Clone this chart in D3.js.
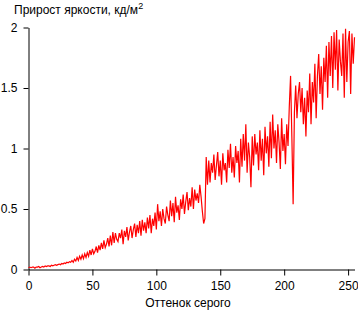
<!DOCTYPE html>
<html><head><meta charset="utf-8">
<script src="https://cdn.jsdelivr.net/npm/d3@7"></script>
<style>
body{margin:0;background:#fff;}
svg text{font-family:"Liberation Sans",Arial,sans-serif;font-size:12px;fill:#000;}
</style></head>
<body><svg id="c" width="358" height="312"></svg>
<script>
const title = "Прирост яркости, кд/м";
const titleSup = "2";
const xLabel = "Оттенок серого";
const xTicks = [0, 50, 100, 150, 200, 250];
const yTicks = [0, 0.5, 1, 1.5, 2];
const yTickLabels = ["0", "0.5", "1", "1.5", "2"];
const brightnessGain = [
0.015,0.02,0.015,0.02,0.02,0.01,0.02,0.02,0.025,0.015,0.02,0.025,0.02,0.03,0.025,0.03,
0.03,0.025,0.035,0.03,0.035,0.04,0.035,0.04,0.045,0.04,0.05,0.045,0.055,0.05,0.06,0.055,
0.065,0.06,0.075,0.06,0.085,0.07,0.1,0.075,0.11,0.085,0.12,0.09,0.13,0.1,0.14,0.11,
0.16,0.12,0.17,0.13,0.15,0.19,0.14,0.2,0.16,0.22,0.17,0.24,0.18,0.21,0.26,0.19,
0.28,0.2,0.31,0.22,0.3,0.25,0.23,0.3,0.26,0.33,0.21,0.32,0.27,0.35,0.24,0.31,
0.36,0.26,0.33,0.38,0.27,0.37,0.3,0.4,0.28,0.41,0.32,0.39,0.3,0.43,0.34,0.45,
0.3,0.42,0.36,0.47,0.33,0.54,0.4,0.48,0.36,0.5,0.42,0.38,0.52,0.45,0.4,0.57,
0.44,0.55,0.39,0.6,0.47,0.53,0.41,0.58,0.5,0.62,0.46,0.56,0.64,0.49,0.59,0.52,
0.68,0.5,0.66,0.57,0.63,0.55,0.7,0.6,0.48,0.38,0.42,0.93,0.7,0.9,0.72,0.88,
0.8,0.95,0.74,0.86,0.97,0.77,0.9,0.7,0.96,0.82,0.88,0.72,0.99,0.84,1.04,0.8,
0.93,0.76,1.02,0.88,0.98,0.72,1.08,0.85,1.12,0.9,1.2,0.8,1.05,0.93,0.68,1.1,
0.86,1.12,0.95,1.05,0.82,1.15,0.9,1.08,0.78,1.18,0.96,1.1,0.85,1.22,0.92,1.28,
1.0,1.15,0.88,1.2,1.05,0.83,1.25,0.98,1.12,0.87,1.2,1.02,1.35,1.6,1.1,0.54,
1.3,1.52,1.25,1.45,1.55,1.3,1.5,1.2,1.42,1.1,1.48,1.3,1.62,1.2,1.55,1.38,
1.7,1.25,1.6,1.78,1.45,1.68,1.32,1.75,1.55,1.85,1.42,1.88,1.6,1.93,1.5,1.96,
1.65,1.98,1.48,1.9,1.72,1.6,1.95,1.42,1.99,1.55,1.88,1.97,1.45,1.95,1.7,1.92
];
const grayLevels = brightnessGain.map((_, i) => i);

const svg = d3.select("#c");
const x = d3.scaleLinear().domain([0, 255]).range([28.5, 354.5]);
const y = d3.scaleLinear().domain([0, 2]).range([269.5, 27.5]);

svg.append("g").attr("transform", "translate(0,269.5)")
  .call(d3.axisBottom(x).tickValues(xTicks).tickSize(6).tickPadding(6).tickSizeOuter(0))
  .call(g => { g.selectAll("text").style("font-size","12px"); g.selectAll("path,line").attr("stroke","#000"); });
svg.append("g").attr("transform", "translate(28.5,0)")
  .call(d3.axisLeft(y).tickValues(yTicks).tickFormat((d,i)=>yTickLabels[i]).tickSize(5).tickPadding(6).tickSizeOuter(0))
  .call(g => { g.selectAll("text").style("font-size","12px"); g.selectAll("path,line").attr("stroke","#000"); });

const line = d3.line().x((d,i)=>x(grayLevels[i])).y(d=>y(d));
svg.append("path").datum(brightnessGain)
  .attr("fill","none").attr("stroke","#ff0000").attr("stroke-width",1.2)
  .attr("d", line);

const t = svg.append("text").attr("x", 14).attr("y", 14).text(title);
t.append("tspan").attr("dy", -5).style("font-size","9px").text(titleSup);

svg.append("text").attr("x", 188).attr("y", 307).attr("text-anchor","middle").text(xLabel);
</script></body></html>
